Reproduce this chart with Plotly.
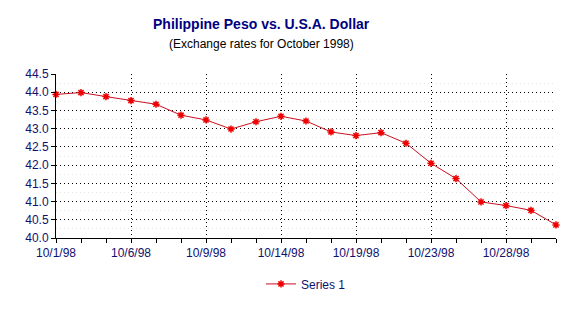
import plotly.graph_objects as go

dates = ["10/1/98", "10/2/98", "10/5/98", "10/6/98", "10/7/98", "10/8/98", "10/9/98",
         "10/12/98", "10/13/98", "10/14/98", "10/15/98", "10/16/98", "10/19/98",
         "10/20/98", "10/21/98", "10/23/98", "10/26/98", "10/27/98", "10/28/98",
         "10/29/98", "10/30/98"]
rates = [43.94, 43.99, 43.88, 43.77, 43.67, 43.37, 43.24, 42.99, 43.19, 43.34,
         43.21, 42.91, 42.81, 42.89, 42.60, 42.05, 41.63, 40.99, 40.89, 40.76, 40.36]
label_every = 3
yticks = [40.0, 40.5, 41.0, 41.5, 42.0, 42.5, 43.0, 43.5, 44.0, 44.5]

xs = list(range(len(dates)))
tick_idx = xs[::label_every]

navy = "#10106e"
fig = go.Figure()
fig.add_trace(go.Scatter(
    x=xs, y=rates, mode="lines+markers", name="Series 1", cliponaxis=False,
    line=dict(color="#c81020", width=1),
    marker=dict(symbol="asterisk-open", size=6, color="#ee0000",
                line=dict(color="#ee0000", width=1.5)),
))

fig.update_layout(
    width=585, height=311,
    margin=dict(l=56, r=29, t=74, b=69),
    paper_bgcolor="white", plot_bgcolor="white",
    showlegend=True,
    legend=dict(orientation="h", x=0.5, xanchor="center", y=-0.28, yanchor="middle",
                font=dict(family="Liberation Sans", size=12, color=navy)),
    annotations=[
        dict(text="<b>Philippine Peso vs. U.S.A. Dollar</b>", xref="paper", yref="paper",
             x=0.41, y=1.304, xanchor="center", yanchor="middle", showarrow=False,
             font=dict(family="Liberation Sans", size=14, color="#000080")),
        dict(text="(Exchange rates for October 1998)", xref="paper", yref="paper",
             x=0.41, y=1.18, xanchor="center", yanchor="middle", showarrow=False,
             font=dict(family="Liberation Sans", size=12, color="black")),
    ],
)
fig.update_xaxes(
    range=[0, len(dates) - 1], tickvals=tick_idx, ticktext=[dates[i] for i in tick_idx],
    showline=True, linecolor="black", linewidth=1,
    ticks="outside", ticklen=4, tickcolor="black",
    showgrid=True, gridcolor="black", griddash="1px,3px", gridwidth=1,
    zeroline=False,
    tickfont=dict(family="Liberation Sans", size=12, color=navy),
    minor=dict(dtick=1, tick0=0, ticks="outside", ticklen=4, tickcolor="black", showgrid=False),
)
fig.update_yaxes(
    range=[40, 44.5], tickvals=yticks, ticktext=[f"{v:.1f}" for v in yticks],
    showline=True, linecolor="black", linewidth=1,
    ticks="outside", ticklen=4, tickcolor="black",
    showgrid=True, gridcolor="black", griddash="1px,3px", gridwidth=1,
    zeroline=False,
    tickfont=dict(family="Liberation Sans", size=12, color=navy),
    minor=dict(dtick=0.25, tick0=40, showgrid=True, gridcolor="#e6e6e6", griddash="1px,3px", ticks=""),
)
fig.write_html("out.html")
